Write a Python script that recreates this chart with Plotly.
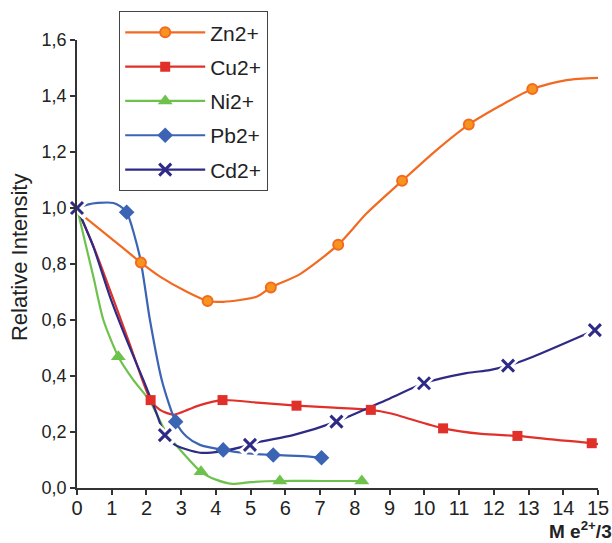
import plotly.graph_objects as go

# ---------------- data ----------------
series_names = ["Zn2+", "Cu2+", "Ni2+", "Pb2+", "Cd2+"]

zn_line_x = [0.25, 1.0, 1.84, 2.39, 3.16, 3.76, 4.21, 5.17, 5.58, 6.42, 7.52, 8.34, 9.36, 10.35, 11.28, 12.17, 13.11, 14.09, 15.2]
zn_line_y = [0.965, 0.89, 0.805, 0.755, 0.701, 0.668, 0.665, 0.683, 0.716, 0.764, 0.869, 0.981, 1.097, 1.207, 1.298, 1.364, 1.425, 1.457, 1.466]
zn_mark_x = [1.84, 3.76, 5.58, 7.52, 9.36, 11.28, 13.11]
zn_mark_y = [0.805, 0.668, 0.716, 0.869, 1.097, 1.298, 1.425]

cu_line_x = [0, 0.5, 1.0, 1.5, 2.12, 2.39, 2.77, 3.2, 3.54, 4.19, 5.2, 6.32, 7.4, 8.46, 9.01, 10.54, 11.65, 12.68, 13.8, 14.82, 15.25]
cu_line_y = [1.0, 0.855, 0.69, 0.52, 0.314, 0.279, 0.262, 0.28, 0.296, 0.314, 0.305, 0.294, 0.287, 0.279, 0.267, 0.213, 0.193, 0.186, 0.172, 0.160, 0.151]
cu_mark_x = [2.12, 4.19, 6.32, 8.46, 10.54, 12.68, 14.82]
cu_mark_y = [0.314, 0.314, 0.294, 0.279, 0.213, 0.186, 0.160]

ni_line_x = [0, 0.47, 0.76, 1.19, 1.62, 2.1, 2.58, 3.06, 3.57, 4.0, 4.47, 5.0, 5.84, 7.0, 8.2]
ni_line_y = [1.0, 0.755, 0.60, 0.469, 0.386, 0.31, 0.195, 0.124, 0.058, 0.03, 0.015, 0.021, 0.025, 0.025, 0.025]
ni_mark_x = [1.19, 3.57, 5.84, 8.2]
ni_mark_y = [0.469, 0.058, 0.025, 0.025]

pb_line_x = [0, 0.3, 0.6, 1.05, 1.25, 1.43, 1.81, 2.1, 2.44, 2.84, 3.16, 3.54, 4.21, 4.88, 5.65, 6.7, 7.04]
pb_line_y = [1.0, 1.012, 1.018, 1.018, 1.006, 0.985, 0.826, 0.60, 0.386, 0.237, 0.183, 0.154, 0.136, 0.124, 0.118, 0.112, 0.108]
pb_mark_x = [1.43, 2.84, 4.21, 5.65, 7.04]
pb_mark_y = [0.985, 0.237, 0.136, 0.118, 0.108]

cd_line_x = [0, 0.47, 0.95, 1.43, 1.91, 2.29, 2.53, 2.82, 3.54, 4.12, 4.98, 5.27, 6.22, 7.47, 9.01, 9.99, 11.21, 11.88, 12.41, 13.13, 14.91, 15.24]
cd_line_y = [1.0, 0.862, 0.683, 0.529, 0.386, 0.267, 0.189, 0.154, 0.126, 0.130, 0.154, 0.165, 0.189, 0.237, 0.320, 0.374, 0.41, 0.421, 0.437, 0.469, 0.564, 0.582]
cd_mark_x = [0, 2.53, 4.98, 7.47, 9.99, 12.41, 14.91]
cd_mark_y = [1.0, 0.189, 0.154, 0.237, 0.374, 0.437, 0.564]

x_tick_vals = list(range(0, 16))
y_tick_vals = [0.0, 0.2, 0.4, 0.6, 0.8, 1.0, 1.2, 1.4, 1.6]

# ---------------- styles ----------------
colors = {"Zn2+": "#F26A21", "Cu2+": "#E1302A", "Ni2+": "#6DC24B", "Pb2+": "#3B64B4", "Cd2+": "#2F2A85"}
markers = {
    "Zn2+": dict(symbol="circle", size=10, color="#F7941D", line=dict(color="#F26A21", width=2)),
    "Cu2+": dict(symbol="square", size=10, color="#E1302A", line=dict(color="#E1302A", width=0)),
    "Ni2+": dict(symbol="triangle-up", size=13, color="#6DC24B", line=dict(color="#6DC24B", width=0)),
    "Pb2+": dict(symbol="diamond", size=12, color="#3B64B4", line=dict(color="#3B64B4", width=0)),
    "Cd2+": dict(symbol="x-thin", size=12, color="#2F2A85", line=dict(color="#2F2A85", width=3)),
}
data = {
    "Zn2+": (zn_line_x, zn_line_y, zn_mark_x, zn_mark_y),
    "Cu2+": (cu_line_x, cu_line_y, cu_mark_x, cu_mark_y),
    "Ni2+": (ni_line_x, ni_line_y, ni_mark_x, ni_mark_y),
    "Pb2+": (pb_line_x, pb_line_y, pb_mark_x, pb_mark_y),
    "Cd2+": (cd_line_x, cd_line_y, cd_mark_x, cd_mark_y),
}

fig = go.Figure()

# smooth lines
for name in series_names:
    lx, ly, mx, my = data[name]
    fig.add_trace(go.Scatter(x=lx, y=ly, mode="lines",
                             line=dict(color=colors[name], width=2.2, shape="spline", smoothing=0.7),
                             showlegend=False, legendgroup=name, hoverinfo="skip"))

# white halo behind the Cd crosses (line gaps around the markers)
fig.add_trace(go.Scatter(x=cd_mark_x, y=cd_mark_y, mode="markers", showlegend=False, hoverinfo="skip",
                         marker=dict(symbol="x-thin", size=17, color="white", line=dict(color="white", width=8)),
                         cliponaxis=False))

# markers
for name in series_names:
    lx, ly, mx, my = data[name]
    fig.add_trace(go.Scatter(x=mx, y=my, mode="markers", marker=markers[name], showlegend=False,
                             legendgroup=name, cliponaxis=False))

# legend entries
for name in series_names:
    fig.add_trace(go.Scatter(x=[None], y=[None], mode="lines+markers", name=name, legendgroup=name,
                             line=dict(color=colors[name], width=2.2), marker=markers[name]))

font_family = "Liberation Sans, Arial, Helvetica, sans-serif"
axis_color = "#333333"
text_color = "#222222"

fig.update_layout(
    width=612, height=543,
    margin=dict(l=77, r=14, t=40, b=55, autoexpand=False),
    paper_bgcolor="white", plot_bgcolor="white",
    separators=", ",
    font=dict(family=font_family, size=18, color=text_color),
    legend=dict(x=0.0806, y=1.0647, xanchor="left", yanchor="top",
                bordercolor="#444444", borderwidth=1.2, bgcolor="white",
                font=dict(size=21, color=text_color), tracegroupgap=4, itemwidth=80),
    xaxis=dict(range=[0, 15], tickvals=x_tick_vals, showgrid=False, zeroline=False,
               showline=True, linecolor=axis_color, linewidth=1.5, automargin=False,
               ticks="outside", ticklen=5, tickcolor=axis_color, tickwidth=1.5,
               ticklabelstandoff=-4,
               tickfont=dict(size=20, color=text_color)),
    yaxis=dict(range=[0, 1.6], tickvals=y_tick_vals, tickformat=".1f", showgrid=False, zeroline=False,
               showline=True, linecolor=axis_color, linewidth=1.5, automargin=False,
               ticks="outside", ticklen=5, tickcolor=axis_color, tickwidth=1.5,
               tickfont=dict(size=18, color=text_color)),
    annotations=[
        dict(text="Relative Intensity", xref="paper", yref="paper", x=-0.109, y=0.516,
             xanchor="center", yanchor="middle", textangle=-90, showarrow=False,
             font=dict(size=22, color=text_color)),
        dict(text="<b>M e<sup>2+</sup>/3</b>", xref="paper", yref="paper", x=1.03, y=-0.094,
             xanchor="right", yanchor="middle", showarrow=False,
             font=dict(size=19, color=text_color)),
    ],
)

fig.write_html("out.html")
